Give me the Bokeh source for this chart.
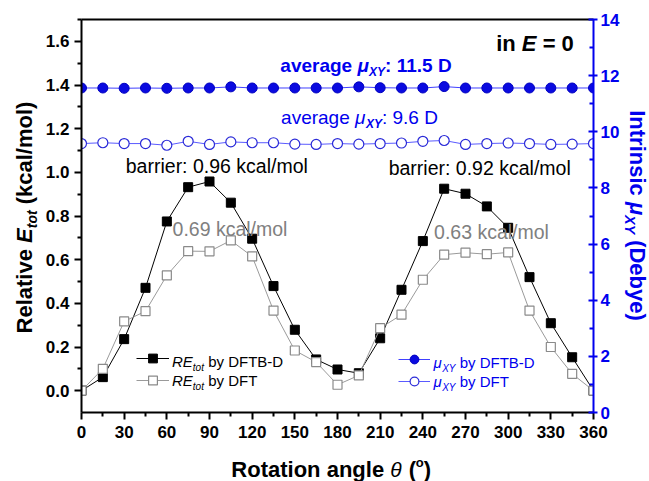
import math
from bokeh.plotting import figure
from bokeh.layouts import row, column
from bokeh.models import (Range1d, LinearAxis, FixedTicker, Label, Legend,
                          LegendItem, NumeralTickFormatter)
from bokeh.embed import file_html
from bokeh.resources import INLINE

# ---------------- data ----------------
THETA = [0, 15, 30, 45, 60, 75, 90, 105, 120, 135, 150, 165, 180,
         195, 210, 225, 240, 255, 270, 285, 300, 315, 330, 345, 360]
RE_DFTB = [0.0, 0.062, 0.236, 0.471, 0.775, 0.932, 0.958, 0.861, 0.696, 0.479,
           0.279, 0.143, 0.097, 0.080, 0.240, 0.462, 0.685, 0.925, 0.902, 0.844,
           0.746, 0.520, 0.309, 0.153, 0.0]
RE_DFT = [0.0, 0.100, 0.317, 0.364, 0.528, 0.639, 0.638, 0.688, 0.615, 0.367,
          0.184, 0.131, 0.027, 0.070, 0.286, 0.348, 0.508, 0.623, 0.632, 0.625,
          0.633, 0.367, 0.200, 0.077, 0.0]
MU_DFTB = [11.56, 11.56, 11.55, 11.56, 11.55, 11.56, 11.56, 11.60, 11.56, 11.56,
           11.56, 11.56, 11.56, 11.60, 11.57, 11.56, 11.56, 11.61, 11.56, 11.56,
           11.56, 11.56, 11.56, 11.56, 11.56]
MU_DFT = [9.58, 9.61, 9.58, 9.58, 9.52, 9.66, 9.55, 9.64, 9.61, 9.61,
          9.56, 9.55, 9.58, 9.56, 9.58, 9.60, 9.66, 9.69, 9.55, 9.58,
          9.60, 9.58, 9.55, 9.56, 9.58]

X_TICKS = [0, 30, 60, 90, 120, 150, 180, 210, 240, 270, 300, 330, 360]
X_MINOR = [15, 45, 75, 105, 135, 165, 195, 225, 255, 285, 315, 345]
Y_TICKS = [0.0, 0.2, 0.4, 0.6, 0.8, 1.0, 1.2, 1.4, 1.6]
Y_MINOR = [0.1, 0.3, 0.5, 0.7, 0.9, 1.1, 1.3, 1.5, 1.7]
MU_TICKS = [0, 2, 4, 6, 8, 10, 12, 14]
MU_MINOR = [1, 3, 5, 7, 9, 11, 13]

BLUE = "#0000ee"
FONT = "Liberation Sans"

# ---------------- geometry (page pixels) ----------------
W, H = 649, 481
LW = 40            # left title strip
RW = 27            # right title strip
MW = W - LW - RW   # main figure width
MH = 450           # main figure height
FL, FR, FT, FB = 81, 593, 19, 412
X0, X1 = 0, 360
Y0, Y1 = -0.1, 1.7


def main_conv(px, py):
    return (X0 + (px - FL) / (FR - FL) * (X1 - X0),
            Y0 + (FB - py) / (FB - FT) * (Y1 - Y0))


REG = {' ': 278, '(': 333, ')': 333, '.': 278, '/': 278, ':': 278, '=': 584,
       '-': 333, 'A': 667, 'B': 667, 'D': 722, 'E': 667, 'F': 611, 'R': 722,
       'T': 611, 'X': 667, 'Y': 667, 'I': 278, 'a': 556, 'b': 556, 'c': 500,
       'e': 556, 'g': 556, 'i': 222, 'k': 500, 'l': 222, 'm': 833, 'n': 556,
       'o': 556, 'r': 333, 's': 500, 't': 278, 'v': 500, 'y': 500, 'μ': 576,
       'θ': 556}
BOLD = {' ': 278, '(': 333, ')': 333, '.': 278, '/': 278, ':': 333, '=': 584,
        '-': 333, 'A': 722, 'B': 722, 'D': 722, 'E': 667, 'F': 611, 'R': 722,
        'T': 611, 'X': 667, 'Y': 667, 'I': 278, 'a': 556, 'b': 611, 'c': 556,
        'e': 556, 'g': 611, 'i': 278, 'k': 556, 'l': 278, 'm': 889, 'n': 611,
        'o': 611, 'r': 389, 's': 556, 't': 333, 'v': 556, 'y': 556, 'μ': 611,
        'θ': 556}


def tw(text, size, style):
    tbl = BOLD if "bold" in style else REG
    return sum(tbl.get(c, 556) for c in text) * size / 1000.0


def place(fig, conv, runs, ax, ay, align="center", orient="h", color="black"):
    """runs: (text, size, style, shift, font); (ax, ay) = visual centre of the
    main text in page pixels (or its left end when align='left')."""
    s0 = runs[0][1]
    total = sum(tw(r[0], r[1], r[2]) for r in runs)
    if orient == "h":
        cur = ax - total / 2 if align == "center" else ax
    elif orient == "up":
        cur = ay + total / 2
    else:
        cur = ay - total / 2
    for r in runs:
        text, size, style = r[0], r[1], r[2]
        shift = r[3] if len(r) > 3 else 0
        font = r[4] if len(r) > 4 else FONT
        off = 0.36 * s0 - shift - 0.36 * size
        lead = len(text) - len(text.lstrip(' '))
        lw = tw(' ' * lead, size, style)
        body = text.strip(' ')
        bw = tw(body, size, style)
        if orient == "h":
            cur += lw
            x, y, ang = cur, ay + off, 0.0
            cur += bw
        elif orient == "up":
            cur -= lw
            x, y, ang = ax + off, cur, math.pi / 2
            cur -= bw
        else:
            cur += lw
            x, y, ang = ax - off, cur, -math.pi / 2
            cur += bw
        X, Y = conv(x, y)
        fig.add_layout(Label(x=X, y=Y, text=body, angle=ang,
                             text_font=font, text_font_size=f"{size}px",
                             text_font_style=style, text_color=color,
                             text_align="left", text_baseline="middle"))


def strip_fig(w, h, ox, oy):
    f = figure(width=w, height=h, x_range=Range1d(0, w), y_range=Range1d(0, h),
               x_axis_type=None, y_axis_type=None, output_backend="svg",
               toolbar_location=None, min_border=0)
    f.outline_line_color = None
    f.background_fill_color = "white"
    f.border_fill_color = "white"

    def conv(px, py):
        return px - ox, h - (py - oy)
    return f, conv


# ---------------- main figure ----------------
p = figure(width=MW, height=MH, x_range=Range1d(X0, X1), y_range=Range1d(Y0, Y1),
           output_backend="svg", toolbar_location=None,
           min_border_left=FL - LW, min_border_right=LW + MW - FR,
           min_border_top=FT, min_border_bottom=MH - FB)
p.grid.visible = False
p.outline_line_color = None
p.background_fill_color = "white"
p.border_fill_color = "white"

xa = p.xaxis[0]
xa.ticker = FixedTicker(ticks=X_TICKS, minor_ticks=X_MINOR)
yl = p.yaxis[0]
yl.ticker = FixedTicker(ticks=Y_TICKS, minor_ticks=Y_MINOR)
yl.formatter = NumeralTickFormatter(format="0.0")
for ax_ in (xa, yl):
    ax_.axis_line_width = 2
    ax_.axis_line_color = "black"
    ax_.major_tick_line_width = 2
    ax_.minor_tick_line_width = 2
    ax_.major_tick_out = 7
    ax_.major_tick_in = 0
    ax_.minor_tick_out = 4
    ax_.minor_tick_in = 0
    ax_.major_label_text_font = FONT
    ax_.major_label_text_font_style = "bold"
    ax_.major_label_text_font_size = "17px"
    ax_.major_label_text_color = "black"
xa.major_label_standoff = 6
yl.major_label_standoff = 5

p.extra_y_ranges = {"mu": Range1d(0, 14)}
ra = LinearAxis(y_range_name="mu", ticker=FixedTicker(ticks=MU_TICKS, minor_ticks=MU_MINOR))
ra.axis_line_width = 2
ra.axis_line_color = BLUE
ra.major_tick_line_color = BLUE
ra.minor_tick_line_color = BLUE
ra.major_tick_line_width = 2
ra.minor_tick_line_width = 2
ra.major_tick_out = 4
ra.major_tick_in = 5
ra.minor_tick_out = 0
ra.minor_tick_in = 4
ra.major_label_standoff = 3
ra.major_label_text_font = FONT
ra.major_label_text_font_style = "bold"
ra.major_label_text_font_size = "17px"
ra.major_label_text_color = BLUE
p.add_layout(ra, "right")

ta = LinearAxis(ticker=FixedTicker(ticks=[]), major_label_text_font_size="0px",
                major_tick_out=0, major_tick_in=0, minor_tick_out=0, minor_tick_in=0,
                axis_line_width=2, axis_line_color="black", major_label_standoff=0)
p.add_layout(ta, "above")

# series
l_dftb = p.line(THETA, RE_DFTB, line_color="black", line_width=1)
s_dftb = p.scatter(THETA, RE_DFTB, marker="square", size=9,
                   fill_color="black", line_color="black")
l_dft = p.line(THETA, RE_DFT, line_color="#9a9a9a", line_width=1)
s_dft = p.scatter(THETA, RE_DFT, marker="square", size=9, fill_color="white",
                  line_color="#8a8a8a", line_width=1.2)

l_mu1 = p.line(THETA, MU_DFTB, y_range_name="mu", line_color="#4040ff", line_width=1)
s_mu1 = p.scatter(THETA, MU_DFTB, y_range_name="mu", marker="circle", size=10,
                  fill_color="#0a0ae0", line_color="#0000c0")
l_mu2 = p.line(THETA, MU_DFT, y_range_name="mu", line_color="#5a5aff", line_width=1)
s_mu2 = p.scatter(THETA, MU_DFT, y_range_name="mu", marker="circle", size=10,
                  fill_color="white", line_color="#2a2ad8", line_width=1.2)

# legends
leg1 = Legend(items=[LegendItem(label="", renderers=[l_dftb, s_dftb]),
                     LegendItem(label="", renderers=[l_dft, s_dft])],
              location=(136 - FL, 21), glyph_width=33, glyph_height=22, spacing=-3,
              padding=0, margin=0, border_line_color=None, background_fill_alpha=0,
              label_standoff=0, label_height=16, label_text_font_size="8px")
leg2 = Legend(items=[LegendItem(label="", renderers=[l_mu1, s_mu1]),
                     LegendItem(label="", renderers=[l_mu2, s_mu2])],
              location=(398 - FL, 20), glyph_width=32, glyph_height=22, spacing=-3,
              padding=0, margin=0, border_line_color=None, background_fill_alpha=0,
              label_standoff=0, label_height=16, label_text_font_size="8px")
p.add_layout(leg1)
p.add_layout(leg2)

place(p, main_conv, [("RE", 15, "italic"), ("tot", 10, "italic", -4), (" by DFTB-D", 15, "normal")],
      171.5, 361, align="left")
place(p, main_conv, [("RE", 15, "italic"), ("tot", 10, "italic", -4), (" by DFT", 15, "normal")],
      171.5, 380, align="left")
place(p, main_conv, [("μ", 15, "italic"), ("XY", 10, "italic", -4), (" by DFTB-D", 15, "normal")],
      433, 362, align="left", color=BLUE)
place(p, main_conv, [("μ", 15, "italic"), ("XY", 10, "italic", -4), (" by DFT", 15, "normal")],
      433, 381, align="left", color=BLUE)

# annotations
place(p, main_conv, [("in", 22, "bold"), (" E", 22, "bold italic"), (" = 0", 22, "bold")], 534.5, 43)
place(p, main_conv, [("average", 19, "bold"), (" μ", 19, "bold italic"), ("XY", 12, "bold italic", -4),
                     (": 11.5 D", 19, "bold")], 366, 65, color=BLUE)
place(p, main_conv, [("average", 19, "normal"), (" μ", 19, "italic"), ("XY", 12, "bold italic", -4),
                     (": 9.6 D", 19, "normal")], 359, 116.5, color=BLUE)
place(p, main_conv, [("barrier: 0.96 kcal/mol", 19.5, "normal")], 216.3, 165)
place(p, main_conv, [("0.69 kcal/mol", 19.5, "normal")], 229.5, 228.5, color="#808080")
place(p, main_conv, [("barrier: 0.92 kcal/mol", 19.5, "normal")], 479.2, 167)
place(p, main_conv, [("0.63 kcal/mol", 19.5, "normal")], 491, 231, color="#808080")

# ---------------- axis-title strips ----------------
left_fig, left_conv = strip_fig(LW, H, 0, 0)
place(left_fig, left_conv, [("Relative", 22, "bold"), (" E", 22, "bold italic"),
                            ("tot", 14, "bold italic", -5), (" (kcal/mol)", 22, "bold")],
      24, 217, orient="up")

right_fig, right_conv = strip_fig(RW, H, LW + MW, 0)
place(right_fig, right_conv, [("Intrinsic", 22, "bold"), (" μ", 22, "bold italic"),
                              ("XY", 14, "bold italic", -5), (" (Debye)", 22, "bold")],
      637, 215, orient="down", color=BLUE)

bottom_fig, bottom_conv = strip_fig(MW, H - MH, LW, MH)
# pieces of the x title anchored at their own page-pixel positions
for txt, px, py, size, style, align in [
        ("Rotation angle", 384, 468.5, 22, "bold", "right"),
        ("θ", 391, 468.5, 21, "italic", "left"),
        ("(", 412, 468.5, 22, "bold", "left"),
        ("o", 420, 462.0, 13, "bold", "left"),
        (")", 429, 468.5, 22, "bold", "left")]:
    bx, by = bottom_conv(px, py)
    bottom_fig.add_layout(Label(x=bx, y=by, text=txt, text_font=FONT,
                                text_font_size=f"{size}px", text_font_style=style,
                                text_color="black", text_align=align,
                                text_baseline="middle"))

layout = row(left_fig, column(p, bottom_fig, spacing=0), right_fig, spacing=0)
open("out.html", "w").write(file_html(layout, INLINE))
